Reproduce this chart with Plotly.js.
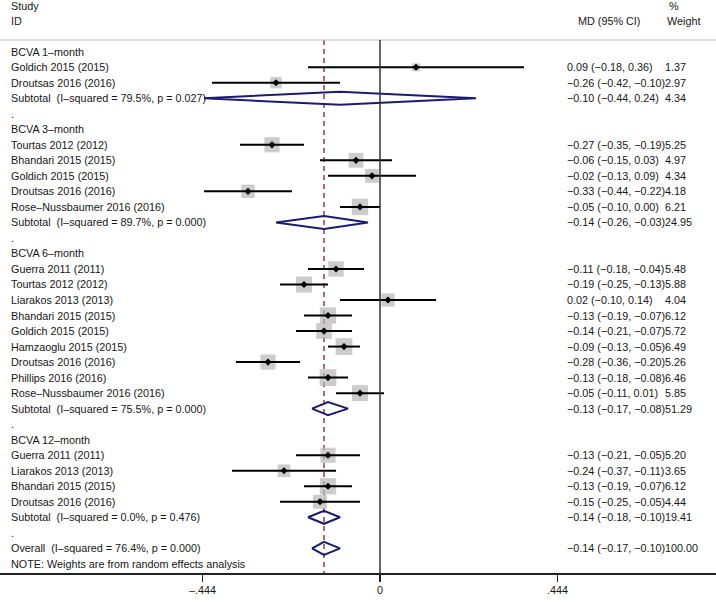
<!DOCTYPE html>
<html>
<head>
<meta charset="utf-8">
<script src="https://cdn.plot.ly/plotly-3.0.1.min.js"></script>
<style>
  html, body { margin: 0; padding: 0; background: #fff; }
  #chart { width: 716px; height: 602px; }
</style>
</head>
<body>
<div id="chart"></div>
<script>
// ---------------- DATA ----------------
const rowLabels = [
  "BCVA 1–month", "Goldich 2015 (2015)", "Droutsas 2016 (2016)",
  "Subtotal\u00a0 (I–squared = 79.5%, p = 0.027)", ".",
  "BCVA 3–month", "Tourtas 2012 (2012)", "Bhandari 2015 (2015)", "Goldich 2015 (2015)",
  "Droutsas 2016 (2016)", "Rose–Nussbaumer 2016 (2016)",
  "Subtotal\u00a0 (I–squared = 89.7%, p = 0.000)", ".",
  "BCVA 6–month", "Guerra 2011 (2011)", "Tourtas 2012 (2012)", "Liarakos 2013 (2013)",
  "Bhandari 2015 (2015)", "Goldich 2015 (2015)", "Hamzaoglu 2015 (2015)", "Droutsas 2016 (2016)",
  "Phillips 2016 (2016)", "Rose–Nussbaumer 2016 (2016)",
  "Subtotal\u00a0 (I–squared = 75.5%, p = 0.000)", ".",
  "BCVA 12–month", "Guerra 2011 (2011)", "Liarakos 2013 (2013)", "Bhandari 2015 (2015)",
  "Droutsas 2016 (2016)", "Subtotal\u00a0 (I–squared = 0.0%, p = 0.476)", ".",
  "Overall\u00a0 (I–squared = 76.4%, p = 0.000)",
  "NOTE: Weights are from random effects analysis"
];
// kind: h = heading, s = study, d = pooled (diamond), b = blank, n = note
const rowKind = [
  "h","s","s","d","b",
  "h","s","s","s","s","s","d","b",
  "h","s","s","s","s","s","s","s","s","s","d","b",
  "h","s","s","s","s","d","b",
  "d","n"
];
const md = [
  null, 0.09, -0.26, -0.10, null,
  null, -0.27, -0.06, -0.02, -0.33, -0.05, -0.14, null,
  null, -0.11, -0.19, 0.02, -0.13, -0.14, -0.09, -0.28, -0.13, -0.05, -0.13, null,
  null, -0.13, -0.24, -0.13, -0.15, -0.14, null,
  -0.14, null
];
const ciLow = [
  null, -0.18, -0.42, -0.44, null,
  null, -0.35, -0.15, -0.13, -0.44, -0.10, -0.26, null,
  null, -0.18, -0.25, -0.10, -0.19, -0.21, -0.13, -0.36, -0.18, -0.11, -0.17, null,
  null, -0.21, -0.37, -0.19, -0.25, -0.18, null,
  -0.17, null
];
const ciHigh = [
  null, 0.36, -0.10, 0.24, null,
  null, -0.19, 0.03, 0.09, -0.22, 0.00, -0.03, null,
  null, -0.04, -0.13, 0.14, -0.07, -0.07, -0.05, -0.20, -0.08, 0.01, -0.08, null,
  null, -0.05, -0.11, -0.07, -0.05, -0.10, null,
  -0.10, null
];
const weight = [
  null, 1.37, 2.97, 4.34, null,
  null, 5.25, 4.97, 4.34, 4.18, 6.21, 24.95, null,
  null, 5.48, 5.88, 4.04, 6.12, 5.72, 6.49, 5.26, 6.46, 5.85, 51.29, null,
  null, 5.20, 3.65, 6.12, 4.44, 19.41, null,
  100.00, null
];
const tickVals = [-0.444, 0, 0.444];
const tickLabels = ["–.444", "0", ".444"];
const headerLeft = ["Study", "ID"];
const headerCI = "MD (95% CI)";
const headerWeight = ["%", "Weight"];

// ---------------- STYLE / LAYOUT CONSTANTS ----------------
const W = 716, H = 602;
const FONT = "Liberation Sans, Arial, Helvetica, sans-serif";
const FS = 10.8;
const TXT = "#161616";
const HEADER_LINE_ROW = -0.754;
const Y_TOP = -3.331, Y_BOTTOM = 33.59;
const DIAM_H = 0.42;

function fmt(v) {
  return (v < 0 ? "−" : "") + Math.abs(v).toFixed(2);
}

const n = rowLabels.length;

// squares (study weights)
const sqX = [], sqY = [], sqS = [];
// CI lines
const ciX = [], ciY = [];
// point estimates
const ptX = [], ptY = [];
// diamonds
const dmX = [], dmY = [];

for (let i = 0; i < n; i++) {
  if (rowKind[i] === "s") {
    sqX.push(md[i]); sqY.push(i); sqS.push(6.6 * Math.sqrt(weight[i]));
    ciX.push(ciLow[i], ciHigh[i], null); ciY.push(i, i, null);
    ptX.push(md[i]); ptY.push(i);
  } else if (rowKind[i] === "d") {
    dmX.push(ciLow[i], md[i], ciHigh[i], md[i], ciLow[i], null);
    dmY.push(i, i - DIAM_H, i, i + DIAM_H, i, null);
  }
}

const traces = [
  { type: "scatter", mode: "markers", x: sqX, y: sqY, hoverinfo: "skip",
    marker: { symbol: "square", size: sqS, color: "#b7b7b7", line: { width: 0 } } },
  { type: "scatter", mode: "lines", x: ciX, y: ciY, hoverinfo: "skip",
    line: { color: "#000", width: 2 }, connectgaps: false },
  { type: "scatter", mode: "markers", x: ptX, y: ptY, hoverinfo: "skip",
    marker: { symbol: "diamond", size: 5.5, color: "#000", line: { width: 0 } } },
  { type: "scatter", mode: "lines", x: dmX, y: dmY, hoverinfo: "skip",
    line: { color: "#1b1b72", width: 2 }, connectgaps: false }
];

const ann = [];
function addText(text, px, row, anchor) {
  ann.push({ text: text, xref: "paper", yref: "y", x: px / W, y: row,
    xanchor: anchor || "left", yanchor: "middle", showarrow: false,
    borderpad: 0, borderwidth: 0,
    font: { family: FONT, size: FS, color: TXT } });
}

addText(headerLeft[0], 11, -2.96);
addText(headerLeft[1], 11, -2.0);
addText(headerCI, 578, -2.0);
addText(headerWeight[0], 669, -2.96);
addText(headerWeight[1], 667, -2.0);

for (let i = 0; i < n; i++) {
  addText(rowLabels[i], 11, i);
  if (md[i] !== null) {
    addText(fmt(md[i]) + " (" + fmt(ciLow[i]) + ", " + fmt(ciHigh[i]) + ")", 567, i);
    addText(weight[i].toFixed(2), 665, i);
  }
}

const overallIdx = rowKind.lastIndexOf("d");

const layout = {
  width: W, height: H,
  margin: { l: 0, r: 0, t: 0, b: 29, pad: 0 },
  paper_bgcolor: "#fff", plot_bgcolor: "#fff",
  showlegend: false,
  font: { family: FONT, size: FS, color: TXT },
  xaxis: {
    range: [-0.95, 0.84], showgrid: false, zeroline: false,
    showline: true, linecolor: "#222", linewidth: 1.5,
    ticks: "outside", ticklen: 7, tickwidth: 1.5, tickcolor: "#222",
    tickvals: tickVals, ticktext: tickLabels,
    tickfont: { family: FONT, size: FS, color: TXT }
  },
  yaxis: {
    range: [Y_BOTTOM, Y_TOP], visible: false, showgrid: false, zeroline: false
  },
  shapes: [
    { type: "line", xref: "paper", yref: "y", x0: 0, x1: 1,
      y0: HEADER_LINE_ROW, y1: HEADER_LINE_ROW, line: { color: "#bdbdbd", width: 1.2 } },
    { type: "line", xref: "x", yref: "y", x0: 0, x1: 0,
      y0: HEADER_LINE_ROW, y1: Y_BOTTOM, line: { color: "#333", width: 1.5 } },
    { type: "line", xref: "x", yref: "y", layer: "below",
      x0: md[overallIdx], x1: md[overallIdx],
      y0: HEADER_LINE_ROW, y1: Y_BOTTOM,
      line: { color: "#8e1b24", width: 1.3, dash: "5px,4px" } }
  ],
  annotations: ann
};

Plotly.newPlot("chart", traces, layout, { staticPlot: true, displayModeBar: false });
</script>
</body>
</html>
